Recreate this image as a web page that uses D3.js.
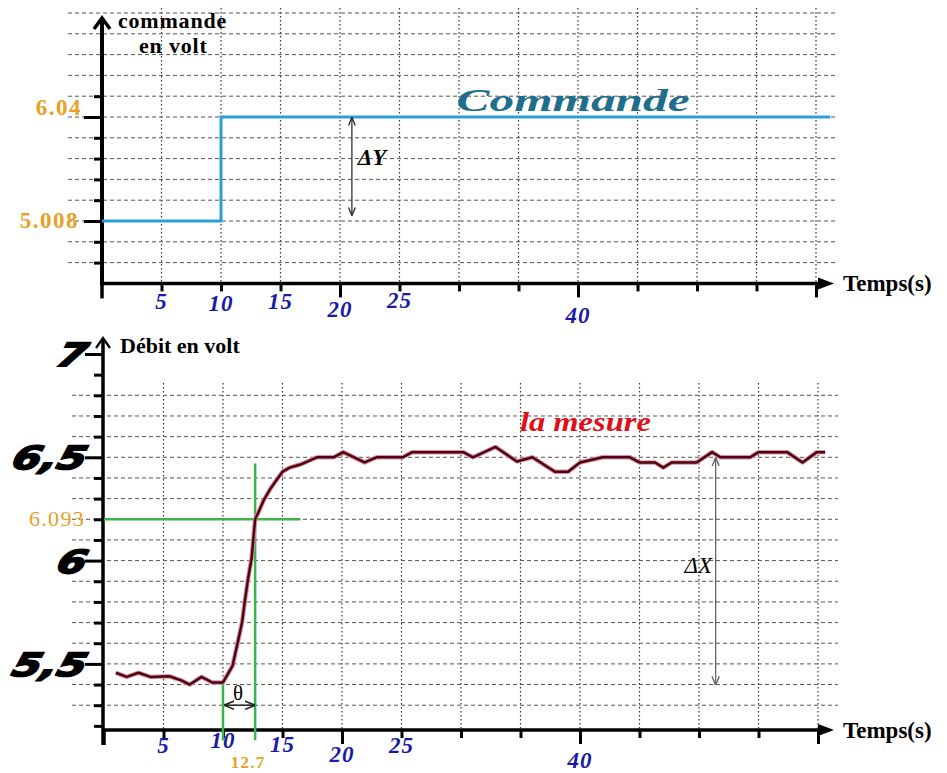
<!DOCTYPE html>
<html><head><meta charset="utf-8">
<script src="https://cdn.jsdelivr.net/npm/d3@7"></script>
<style>body{margin:0;background:#fff}</style>
</head><body>
<svg id="c" width="947" height="773"></svg>
<script>
// ---------------- data ----------------
const timeTicks = [5,10,15,20,25,30,35,40,45,50,55,60];
const timeLabels = [5,10,15,20,25,40];
const longTimeTicks = [20,40,60];

const commandeTime = [0, 10, 61.2];
const commandeVolt = [5.008, 6.04, 6.04];
const commandeLevels = [5.008, 6.04];
const commandeLevelLabels = ["5.008", "6.04"];

const mesureTime = [1.0,1.9,2.9,3.9,5.5,6.5,7.2,8.2,9.1,10.0,10.8,11.3,11.6,11.85,12.1,12.4,12.7,12.95,13.4,13.95,14.5,15.0,15.6,16.5,17.9,19.3,20.1,21.9,22.9,25.1,25.9,30.2,31.0,32.9,34.7,36.0,37.9,39.0,40.0,41.9,44.2,45.0,46.3,47.0,47.7,49.8,51.1,51.8,54.3,55.0,57.4,58.7,59.9,60.6];
const mesureVolt = [5.457,5.437,5.457,5.437,5.44,5.42,5.40,5.437,5.41,5.41,5.49,5.62,5.70,5.81,5.91,6.01,6.2,6.23,6.29,6.345,6.39,6.43,6.45,6.465,6.50,6.50,6.525,6.475,6.50,6.50,6.525,6.525,6.50,6.55,6.48,6.50,6.43,6.43,6.475,6.50,6.50,6.475,6.475,6.45,6.475,6.475,6.525,6.50,6.50,6.525,6.525,6.475,6.525,6.525];

const debitTicks = [5.2,5.3,5.4,5.5,5.6,5.7,5.8,5.9,6.0,6.1,6.2,6.3,6.4,6.5,6.6,6.7,6.8,6.9,7.0];
const debitGrid = [5.3,5.4,5.5,5.6,5.7,5.8,5.9,6.0,6.1,6.2,6.3,6.4,6.5,6.6,6.7,6.8];
const debitLabelValues = [5.5, 6, 6.5, 7];
const debitLabels = ["5,5", "6", "6,5", "7"];

const thetaTimes = [10, 12.7];
const tangentLevel = 6.2;          // where the 6.093 line sits on the grid
const tangentLabel = "6.093";
const thetaLabel = "12.7";

// ---------------- layout / style ----------------
const svg = d3.select("#c");
const blue = "#1a1aa8", orange = "#e8a028", green = "#3cb44b";
const serif = "'Liberation Serif','Times New Roman',serif";

// scales
const xT = d3.scaleLinear().domain([0, 60]).range([102, 816]);
const stepT = (commandeLevels[1] - commandeLevels[0]) / 5;
const yT = d3.scaleLinear().domain(commandeLevels).range([221, 117]);
const topMin = commandeLevels[0] - 3 * stepT;
const topGrid = d3.range(-3, 11).map(k => commandeLevels[0] + k * stepT);

const xB = d3.scaleLinear().domain([0, 60]).range([104, 818]);
const yB = d3.scaleLinear().domain([5.18, 7.0]).range([730, 354]);

svg.append("defs").html(`
 <marker id="ah" viewBox="0 0 10 10" refX="9" refY="5" markerWidth="7" markerHeight="7" orient="auto-start-reverse">
  <path d="M0,1 L10,5 L0,9" fill="none" stroke="#222" stroke-width="1.5"/></marker>
 <marker id="ahg" viewBox="0 0 10 10" refX="9" refY="5" markerWidth="7" markerHeight="7" orient="auto-start-reverse">
  <path d="M0,1 L10,5 L0,9" fill="none" stroke="#666" stroke-width="1.5"/></marker>`);

// ---------- grid ----------
function grid(g, x, yScale, hVals, yTop, yBottom, xLeft, xRight) {
  g.selectAll(".vg").data(timeTicks).join("line")
    .attr("x1", d => x(d)).attr("x2", d => x(d))
    .attr("y1", yTop).attr("y2", yBottom)
    .attr("stroke", "#333").attr("stroke-width", 1.2).attr("stroke-dasharray", "1.5,2.5");
  g.selectAll(".hg").data(hVals).join("line")
    .attr("x1", xLeft).attr("x2", xRight)
    .attr("y1", d => yScale(d)).attr("y2", d => yScale(d))
    .attr("stroke", "#555").attr("stroke-width", 1).attr("stroke-dasharray", "4,3");
}
grid(svg.append("g"), xT, yT, topGrid.slice(1), 8, yT(topMin), 68, 836);
grid(svg.append("g"), xB, yB, debitGrid, 383, yB(5.18), 72, 838);

// ---------- axes ----------
function timeAxis(x, yPos) {
  const g = svg.append("g").attr("transform", `translate(0,${yPos})`);
  g.call(d3.axisBottom(x).tickValues(timeTicks).tickSize(8).tickFormat(""));
  g.select(".domain").remove();
  g.selectAll(".tick line").attr("stroke", "#000").attr("stroke-width", 3)
    .attr("y2", d => longTimeTicks.includes(d) ? 14 : 8);
  svg.append("line").attr("x1", x(0) - 2).attr("x2", 822).attr("y1", yPos).attr("y2", yPos)
    .attr("stroke", "#000").attr("stroke-width", 3.5);
  svg.append("path").attr("d", `M818,${yPos-6} L834,${yPos} L818,${yPos+6} Z`).attr("fill", "#000");
  svg.append("line").attr("x1", x(0)).attr("x2", x(0)).attr("y1", yPos).attr("y2", yPos + 15)
    .attr("stroke", "#000").attr("stroke-width", 3.5);
  svg.append("text").attr("x", 843).attr("y", yPos + 8).attr("font-family", serif)
    .attr("font-weight", "bold").attr("font-size", 23).text("Temps(s)");
}
timeAxis(xT, yT(topMin));
timeAxis(xB, yB(5.18));

// time labels (staggered as in the drawing)
const topLabelDy = [26, 28, 26, 34, 25, 40];
const botLabelDy = [23, 18, 22, 32, 23, 38];
function timeLabelsDraw(x, yPos, dys) {
  svg.append("g").selectAll("text").data(timeLabels).join("text")
    .attr("x", d => x(d)).attr("y", (d, i) => yPos + dys[i])
    .attr("text-anchor", "middle").attr("font-family", serif)
    .attr("font-weight", "bold").attr("font-style", "italic").attr("font-size", 23)
    .attr("letter-spacing", 1)
    .attr("fill", blue).text(d => d);
}
timeLabelsDraw(xT, yT(topMin), topLabelDy);
timeLabelsDraw(xB, yB(5.18), botLabelDy);

// top y axis
{
  const g = svg.append("g").attr("transform", `translate(${xT(0)},0)`);
  g.call(d3.axisLeft(yT).tickValues(topGrid.slice(1, 10)).tickSize(8).tickFormat(""));
  g.select(".domain").remove();
  g.selectAll(".tick line").attr("stroke", "#000").attr("stroke-width", 3)
    .attr("x2", d => commandeLevels.some(v => Math.abs(v - d) < 1e-6) ? -18 : -8);
  svg.append("line").attr("x1", xT(0)).attr("x2", xT(0)).attr("y1", yT(topMin) + 2).attr("y2", 19)
    .attr("stroke", "#000").attr("stroke-width", 4);
  svg.append("path").attr("d", `M${xT(0)-8},29 L${xT(0)},18 L${xT(0)+8},29`)
    .attr("fill", "none").attr("stroke", "#000").attr("stroke-width", 3.5);
  svg.selectAll(".tl").data(commandeLevels).join("text")
    .attr("x", (d) => d > 6 ? 82 : 79).attr("y", d => yT(d) + (d > 6 ? -2 : 7)).attr("text-anchor", "end")
    .attr("font-family", serif).attr("font-weight", "bold").attr("font-size", 23)
    .attr("letter-spacing", 1.5)
    .attr("fill", orange).text((d, i) => commandeLevelLabels[i]);
  svg.append("text").attr("x", 118).attr("y", 28).attr("font-family", serif)
    .attr("font-weight", "bold").attr("font-size", 22).attr("letter-spacing", 0.8).text("commande");
  svg.append("text").attr("x", 139).attr("y", 53).attr("font-family", serif)
    .attr("font-weight", "bold").attr("font-size", 22).attr("letter-spacing", 0.8).text("en volt");
}

// bottom y axis
{
  const g = svg.append("g").attr("transform", `translate(${xB(0) - 1},0)`);
  g.call(d3.axisLeft(yB).tickValues(debitTicks).tickSize(9).tickFormat(""));
  g.select(".domain").remove();
  g.selectAll(".tick line").attr("stroke", "#000").attr("stroke-width", 3)
    .attr("x2", d => debitLabelValues.some(v => Math.abs(v - d) < 1e-6) ? -18 : -9);
  svg.append("line").attr("x1", xB(0) - 1).attr("x2", xB(0) - 1).attr("y1", yB(5.18) + 15).attr("y2", 340)
    .attr("stroke", "#000").attr("stroke-width", 3.5);
  svg.append("path").attr("d", `M${xB(0)-8},348 L${xB(0)-1},338 L${xB(0)+6},348`)
    .attr("fill", "none").attr("stroke", "#000").attr("stroke-width", 2.2);
  svg.selectAll(".bl").data(debitLabelValues).join("text")
    .attr("transform", d => `translate(84,${yB(d) + 12}) scale(1.3,1) skewX(-12)`)
    .attr("text-anchor", "end").attr("font-family", "'DejaVu Sans',sans-serif")
    .attr("font-weight", "bold").attr("font-style", "italic").attr("font-size", 32)
    .attr("stroke", "#000").attr("stroke-width", 1.8).attr("fill", "#000")
    .text((d, i) => debitLabels[i]);
  svg.append("text").attr("x", 120).attr("y", 353).attr("font-family", serif)
    .attr("font-weight", "bold").attr("font-size", 22).text("Débit en volt");
}

// ---------- commande line ----------
svg.append("path")
  .datum(commandeTime.map((t, i) => [t, commandeVolt[i]]))
  .attr("d", d3.line().x(d => xT(d[0])).y(d => yT(d[1])).curve(d3.curveStepAfter))
  .attr("fill", "none").attr("stroke", "#2b9fd6").attr("stroke-width", 3);
svg.append("text").attr("x", xT(29.8)).attr("y", yT(6.1)).attr("font-family", serif)
  .attr("font-weight", "bold").attr("font-style", "italic").attr("font-size", 31)
  .attr("textLength", 233).attr("lengthAdjust", "spacingAndGlyphs")
  .attr("fill", "#1f6e8c").text("Commande");

// ΔY
svg.append("line").attr("x1", xT(21)).attr("x2", xT(21)).attr("y1", yT(6.04) + 1).attr("y2", yT(5.068))
  .attr("stroke", "#222").attr("stroke-width", 1.2)
  .attr("marker-start", "url(#ah)").attr("marker-end", "url(#ah)");
svg.append("text").attr("x", xT(21.5)).attr("y", yT(5.564)).attr("font-family", serif)
  .attr("font-style", "italic").attr("font-weight", "bold").attr("font-size", 23).text("ΔY");

// ---------- green construction lines ----------
const gG = svg.append("g").attr("stroke", green).attr("stroke-width", 2.5);
gG.append("line").attr("x1", xB(0)).attr("x2", xB(16.5)).attr("y1", yB(tangentLevel)).attr("y2", yB(tangentLevel));
gG.append("line").attr("x1", xB(thetaTimes[1])).attr("x2", xB(thetaTimes[1])).attr("y1", yB(6.47)).attr("y2", yB(5.13));
gG.append("line").attr("x1", xB(thetaTimes[0])).attr("x2", xB(thetaTimes[0])).attr("y1", yB(5.42)).attr("y2", yB(5.13));

// ---------- mesure curve ----------
const mesureLine = d3.line().x(d => xB(d[0])).y(d => yB(d[1]));
const mData = mesureTime.map((t, i) => [t, mesureVolt[i]]);
svg.append("path").datum(mData).attr("d", mesureLine).attr("fill", "none")
  .attr("stroke", "#e08ca0").attr("stroke-width", 4.5).attr("stroke-linejoin", "round");
svg.append("path").datum(mData).attr("d", mesureLine).attr("fill", "none")
  .attr("stroke", "#4a0512").attr("stroke-width", 2.5).attr("stroke-linejoin", "round");
svg.append("text").attr("x", xB(34.95)).attr("y", yB(6.626)).attr("font-family", serif)
  .attr("font-weight", "bold").attr("font-style", "italic").attr("font-size", 27)
  .attr("textLength", 131).attr("lengthAdjust", "spacingAndGlyphs")
  .attr("fill", "#e0101a").text("la mesure");

// labels of construction
svg.append("text").attr("x", 85).attr("y", yB(tangentLevel) + 7).attr("text-anchor", "end")
  .attr("font-family", serif).attr("font-size", 22).attr("letter-spacing", 1.3)
  .attr("fill", orange).text(tangentLabel);
svg.append("text").attr("x", xB(thetaTimes[1]) - 7).attr("y", 768).attr("text-anchor", "middle")
  .attr("font-family", serif).attr("font-weight", "bold").attr("font-size", 17)
  .attr("letter-spacing", 1.2).attr("fill", orange).text(thetaLabel);

// θ
svg.append("line").attr("x1", xB(thetaTimes[0]) + 2).attr("x2", xB(thetaTimes[1]) - 1)
  .attr("y1", yB(5.3)).attr("y2", yB(5.3)).attr("stroke", "#222").attr("stroke-width", 1.5)
  .attr("marker-start", "url(#ah)").attr("marker-end", "url(#ah)");
svg.append("text").attr("x", xB((thetaTimes[0] + thetaTimes[1]) / 2) - 1).attr("y", yB(5.3) - 5)
  .attr("text-anchor", "middle").attr("font-family", serif).attr("font-size", 21).text("θ");

// ΔX
svg.append("line").attr("x1", xB(51.4)).attr("x2", xB(51.4)).attr("y1", yB(6.5) + 1).attr("y2", yB(5.4))
  .attr("stroke", "#666").attr("stroke-width", 1.3)
  .attr("marker-start", "url(#ahg)").attr("marker-end", "url(#ahg)");
svg.append("text").attr("x", xB(51.1)).attr("y", yB(5.94)).attr("text-anchor", "end")
  .attr("font-family", serif).attr("font-style", "italic").attr("font-size", 23).text("ΔX");
</script>
</body></html>
